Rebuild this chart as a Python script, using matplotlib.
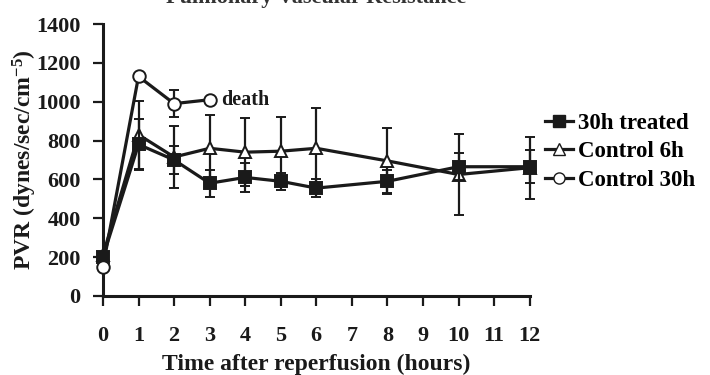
import matplotlib
matplotlib.use("Agg")
import matplotlib.pyplot as plt
from matplotlib.lines import Line2D

plt.rcParams['font.family'] = ['Liberation Serif', 'DejaVu Serif']
plt.rcParams['font.weight'] = 'bold'
plt.rcParams['mathtext.fontset'] = 'custom'
plt.rcParams['mathtext.rm'] = 'Liberation Serif:bold'
plt.rcParams['mathtext.bf'] = 'Liberation Serif:bold'
plt.rcParams['mathtext.default'] = 'bf'

hours = [0, 1, 2, 3, 4, 5, 6, 8, 10, 12]
treated = [200, 780, 700, 580, 610, 590, 555, 590, 665, 665]
treated_err = [0, 130, 70, 70, 75, 45, 45, 60, 70, 85]
ctrl6 = [210, 830, 715, 760, 740, 745, 760, 695, 625, 660]
ctrl6_err = [0, 175, 160, 170, 175, 175, 210, 170, 210, 160]
hours30 = [0, 1, 2, 3]
ctrl30 = [150, 1130, 990, 1010]
ctrl30_err = [0, 0, 70, 0]
xticks = list(range(0, 13))
yticks = [0, 200, 400, 600, 800, 1000, 1200, 1400]

ink = '#1a1a1a'
fig = plt.figure(figsize=(7.1, 3.75), dpi=100)
ax = fig.add_axes([0.145, 0.211, 0.601, 0.725])

common = dict(color=ink, lw=2.3, capsize=3.5, elinewidth=1.6, capthick=1.6,
              clip_on=False, markersize=9, markeredgewidth=1.4)
ax.errorbar(hours, ctrl6, yerr=ctrl6_err, marker='^', mfc='white', mec=ink,
            zorder=3, **common)
ax.errorbar(hours, treated, yerr=treated_err, marker='s', mfc=ink, mec=ink,
            zorder=4, **common)
ax.errorbar(hours30, ctrl30, yerr=ctrl30_err, marker='o', mfc='white', mec=ink,
            zorder=5, **common)
ax.text(3.33, 1010, 'death', fontsize=14.5, fontweight='bold', va='center', ha='left', color=ink)

ax.set_xlim(0, 12)
ax.set_ylim(0, 1400)
ax.set_xticks(xticks)
ax.set_yticks(yticks)
for s in ['top', 'right']:
    ax.spines[s].set_visible(False)
for s in ['left', 'bottom']:
    ax.spines[s].set_linewidth(2.2)
    ax.spines[s].set_color(ink)
ax.tick_params(axis='x', direction='out', length=7, width=1.6, pad=15, labelsize=16, colors=ink)
ax.tick_params(axis='y', direction='out', length=7, width=1.6, pad=9, labelsize=16, colors=ink)
for lab in ax.get_xticklabels() + ax.get_yticklabels():
    lab.set_fontweight('bold')

ax.set_xlabel('Time after reperfusion (hours)', fontsize=17, fontweight='bold', labelpad=5, color=ink)
ax.set_ylabel('PVR (dynes/sec/cm$^{-5}$)', fontsize=17, fontweight='bold', labelpad=-2, color=ink)

handles = [
    Line2D([0], [0], color=ink, lw=2.3, marker='s', mfc=ink, mec=ink, markersize=8),
    Line2D([0], [0], color=ink, lw=2.3, marker='^', mfc='white', mec=ink, markersize=8),
    Line2D([0], [0], color=ink, lw=2.3, marker='o', mfc='white', mec=ink, markersize=8),
]
fig.legend(handles, ['30h treated', 'Control 6h', 'Control 30h'],
           loc='center left', bbox_to_anchor=(0.755, 0.595), frameon=False,
           handlelength=1.2, handletextpad=0.25, labelspacing=0.32, borderaxespad=0,
           prop={'weight': 'bold', 'size': 16.5})

fig.text(0.445, 1 - 3 / 375, 'Pulmonary Vascular Resistance', ha='center', va='baseline',
         fontsize=16, fontweight='bold', color='#333333')

fig.savefig('out.png', dpi=100)
